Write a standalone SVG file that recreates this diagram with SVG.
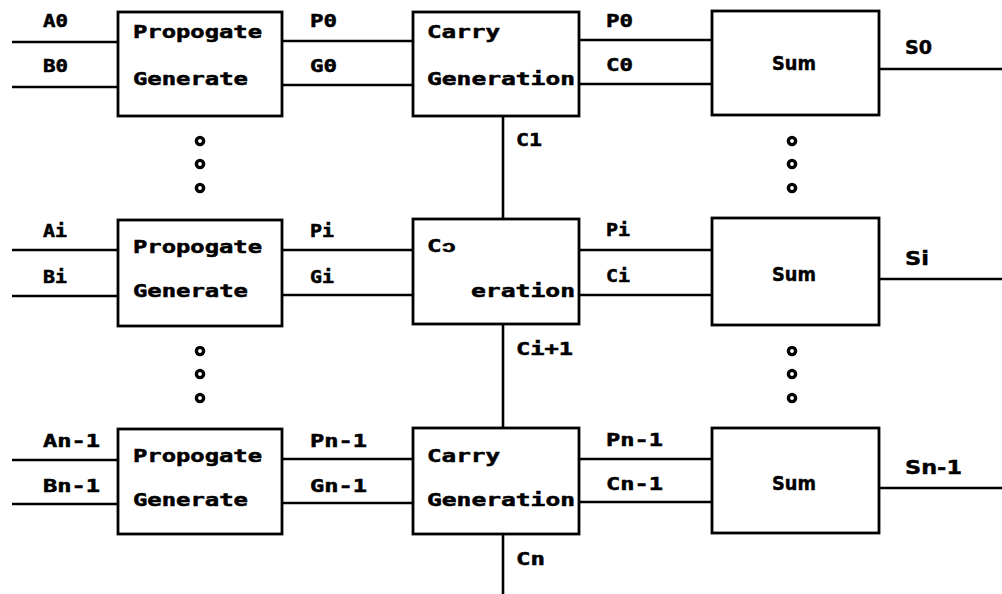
<svg xmlns="http://www.w3.org/2000/svg" width="1002" height="594" viewBox="0 0 1002 594">
<style>
.box{fill:#fff;stroke:#000;stroke-width:2.8}
.w{fill:none;stroke:#000;stroke-width:2.6}
.t{font-family:"DejaVu Sans Mono","Liberation Mono",monospace;font-weight:bold;font-size:17px;fill:#000;stroke:#000;stroke-width:0.5}
.s{font-family:"DejaVu Sans","Liberation Sans",sans-serif;font-weight:bold;font-size:19px;fill:#000;stroke:#000;stroke-width:0.4}
.d{fill:none;stroke:#000;stroke-width:3.4}
</style>
<rect width="1002" height="594" fill="#fff"/>
<g id="connectors">
<path class="w" d="M12 42H118M12 87H118M282 41H413M282 85H413M579 40H712M579 84H712M879 69H1002"/>
<path class="w" d="M12 250H118M12 296H118M282 250H413M282 295H413M579 250H712M579 295H712M879 279H1002"/>
<path class="w" d="M12 460H118M12 504H118M282 459H413M282 503H413M579 459H712M579 502H712M879 488H1002"/>
<path class="w" d="M503 116V219M503 324V428M503 534V594"/>
<text class="t" x="43" y="27" textLength="25" lengthAdjust="spacingAndGlyphs">A0</text>
<text class="t" x="43" y="72" textLength="25" lengthAdjust="spacingAndGlyphs">B0</text>
<text class="t" x="310" y="27" textLength="27" lengthAdjust="spacingAndGlyphs">P0</text>
<text class="t" x="310" y="72" textLength="27" lengthAdjust="spacingAndGlyphs">G0</text>
<text class="t" x="606" y="27" textLength="27" lengthAdjust="spacingAndGlyphs">P0</text>
<text class="t" x="606" y="71" textLength="27" lengthAdjust="spacingAndGlyphs">C0</text>
<text class="t" x="516" y="146" textLength="26" lengthAdjust="spacingAndGlyphs">C1</text>
<text class="s" x="905" y="54" textLength="27" lengthAdjust="spacingAndGlyphs">S0</text>
<text class="t" x="43" y="237" textLength="24" lengthAdjust="spacingAndGlyphs">Ai</text>
<text class="t" x="43" y="283" textLength="24" lengthAdjust="spacingAndGlyphs">Bi</text>
<text class="t" x="310" y="237" textLength="24" lengthAdjust="spacingAndGlyphs">Pi</text>
<text class="t" x="310" y="283" textLength="24" lengthAdjust="spacingAndGlyphs">Gi</text>
<text class="t" x="606" y="236" textLength="24" lengthAdjust="spacingAndGlyphs">Pi</text>
<text class="t" x="606" y="282" textLength="24" lengthAdjust="spacingAndGlyphs">Ci</text>
<text class="t" x="516" y="355" textLength="57" lengthAdjust="spacingAndGlyphs">Ci+1</text>
<text class="s" x="905" y="265" textLength="24" lengthAdjust="spacingAndGlyphs">Si</text>
<text class="t" x="43" y="447" textLength="57" lengthAdjust="spacingAndGlyphs">An-1</text>
<text class="t" x="43" y="492" textLength="57" lengthAdjust="spacingAndGlyphs">Bn-1</text>
<text class="t" x="310" y="447" textLength="57" lengthAdjust="spacingAndGlyphs">Pn-1</text>
<text class="t" x="310" y="492" textLength="57" lengthAdjust="spacingAndGlyphs">Gn-1</text>
<text class="t" x="606" y="446" textLength="57" lengthAdjust="spacingAndGlyphs">Pn-1</text>
<text class="t" x="606" y="490" textLength="57" lengthAdjust="spacingAndGlyphs">Cn-1</text>
<text class="t" x="516" y="565" textLength="29" lengthAdjust="spacingAndGlyphs">Cn</text>
<text class="s" x="905" y="474" textLength="57" lengthAdjust="spacingAndGlyphs">Sn-1</text>
</g>
<g id="pg0"><rect class="box" x="118" y="12" width="164" height="104"/>
<text class="t" x="133" y="38" textLength="129" lengthAdjust="spacingAndGlyphs">Propogate</text>
<text class="t" x="133" y="85" textLength="115" lengthAdjust="spacingAndGlyphs">Generate</text></g>
<g id="cg0"><rect class="box" x="413" y="12" width="166" height="104"/>
<text class="t" x="427" y="38" textLength="73" lengthAdjust="spacingAndGlyphs">Carry</text>
<text class="t" x="427" y="85" textLength="148" lengthAdjust="spacingAndGlyphs">Generation</text></g>
<g id="sum0"><rect class="box" x="712" y="11" width="167" height="104"/>
<text class="s" x="772" y="70" textLength="44" lengthAdjust="spacingAndGlyphs">Sum</text></g>
<g id="pgi"><rect class="box" x="118" y="220" width="164" height="106"/>
<text class="t" x="133" y="253" textLength="129" lengthAdjust="spacingAndGlyphs">Propogate</text>
<text class="t" x="133" y="297" textLength="115" lengthAdjust="spacingAndGlyphs">Generate</text></g>
<g id="cgi"><rect class="box" x="413" y="219" width="166" height="105"/>
<text class="t" x="427" y="252" textLength="29" lengthAdjust="spacingAndGlyphs">Cↄ</text>
<text class="t" x="471" y="297" textLength="104" lengthAdjust="spacingAndGlyphs">eration</text></g>
<g id="sumi"><rect class="box" x="712" y="218" width="167" height="107"/>
<text class="s" x="772" y="281" textLength="44" lengthAdjust="spacingAndGlyphs">Sum</text></g>
<g id="pgn"><rect class="box" x="118" y="429" width="164" height="105"/>
<text class="t" x="133" y="462" textLength="129" lengthAdjust="spacingAndGlyphs">Propogate</text>
<text class="t" x="133" y="506" textLength="115" lengthAdjust="spacingAndGlyphs">Generate</text></g>
<g id="cgn"><rect class="box" x="413" y="428" width="166" height="106"/>
<text class="t" x="427" y="462" textLength="73" lengthAdjust="spacingAndGlyphs">Carry</text>
<text class="t" x="427" y="506" textLength="148" lengthAdjust="spacingAndGlyphs">Generation</text></g>
<g id="sumn"><rect class="box" x="712" y="428" width="167" height="105"/>
<text class="s" x="772" y="490" textLength="44" lengthAdjust="spacingAndGlyphs">Sum</text></g>
<g id="dots">
<circle class="d" cx="200" cy="141" r="3.6"/><circle class="d" cx="200" cy="164" r="3.6"/><circle class="d" cx="200" cy="188" r="3.6"/>
<circle class="d" cx="200" cy="351" r="3.6"/><circle class="d" cx="200" cy="374" r="3.6"/><circle class="d" cx="200" cy="398" r="3.6"/>
<circle class="d" cx="792" cy="141" r="3.6"/><circle class="d" cx="792" cy="164" r="3.6"/><circle class="d" cx="792" cy="188" r="3.6"/>
<circle class="d" cx="792" cy="351" r="3.6"/><circle class="d" cx="792" cy="374" r="3.6"/><circle class="d" cx="792" cy="398" r="3.6"/>
</g>
</svg>
